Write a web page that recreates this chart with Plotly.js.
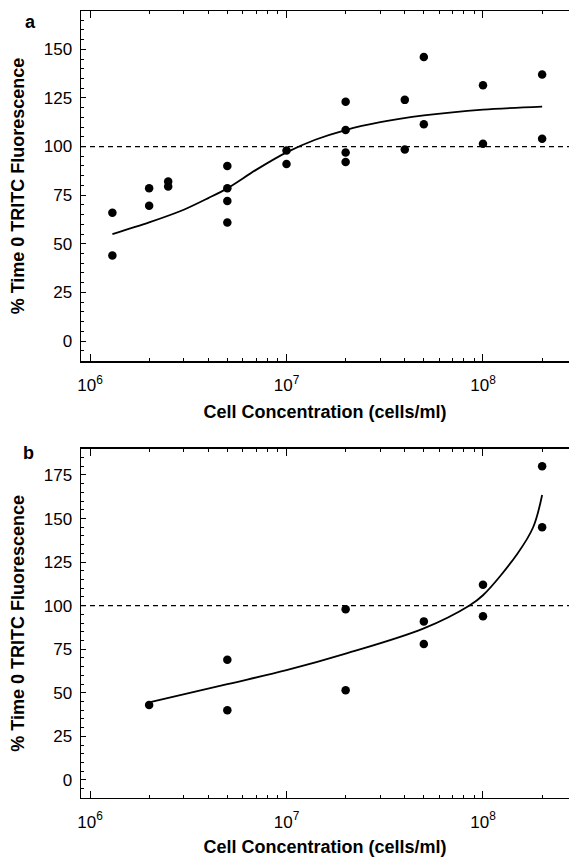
<!DOCTYPE html>
<html>
<head>
<meta charset="utf-8">
<script src="https://cdn.plot.ly/plotly-3.0.1.min.js"></script>
<style>html,body{margin:0;padding:0;background:#fff;}#chart{width:569px;height:857px;}</style>
</head>
<body>
<div id="chart"></div>
<script>
// Panel a: measured points
const concA = [1.3e6,1.3e6,2e6,2e6,2.5e6,2.5e6,5e6,5e6,5e6,5e6,1e7,1e7,2e7,2e7,2e7,2e7,4e7,4e7,5e7,5e7,1e8,1e8,2e8,2e8];
const fluorA = [66,44,78.5,69.5,82,79.5,90,78.5,72,61,98,91,123,108.5,97,92,124,98.5,146,111.5,131.5,101.5,137,104];
// Panel a: fitted curve
const fitConcA = [1.3e6,2e6,3e6,4e6,5e6,7e6,1e7,1.4e7,2e7,3e7,5e7,1e8,2e8];
const fitFluorA = [55,61,67.5,73.5,78.5,88,97,103.5,108.5,112.5,116,119,120.5];
// Panel b: measured points
const concB = [2e6,5e6,5e6,2e7,2e7,5e7,5e7,1e8,1e8,2e8,2e8];
const fluorB = [43,69,40,98,51.5,91,78,112,94,180,145];
// Panel b: fitted curve
const fitConcB = [2e6,5e6,1e7,2e7,5e7,8.5e7,1e8,1.5e8,1.8e8,2e8];
const fitFluorB = [44.5,55,63,72.5,87,100,106,130,145,163.5];
// Reference level and ticks
const baseline = 100;
const xTickVals = [1e6,1e7,1e8];
const xTickText = ['10<sup>6</sup>','10<sup>7</sup>','10<sup>8</sup>'];
const yTickValsA = [0,25,50,75,100,125,150];
const yTickValsB = [0,25,50,75,100,125,150,175];
const xTitle = 'Cell Concentration (cells/ml)';
const yTitle = '% Time 0 TRITC Fluorescence';

const FONT = 'Liberation Sans, Arial, Helvetica, sans-serif';

const traces = [
  {x: concA, y: fluorA, type:'scatter', mode:'markers', xaxis:'x', yaxis:'y',
   marker:{color:'#000', size:8.5}, showlegend:false},
  {x: fitConcA, y: fitFluorA, type:'scatter', mode:'lines', xaxis:'x', yaxis:'y',
   line:{color:'#000', width:1.8, shape:'spline', smoothing:0.8}, showlegend:false},
  {x: concB, y: fluorB, type:'scatter', mode:'markers', xaxis:'x2', yaxis:'y2',
   marker:{color:'#000', size:8.5}, showlegend:false},
  {x: fitConcB, y: fitFluorB, type:'scatter', mode:'lines', xaxis:'x2', yaxis:'y2',
   line:{color:'#000', width:1.8, shape:'spline', smoothing:1}, showlegend:false}
];

function xAxis(anchor){
  return {
    type:'log', range:[5.9542, 8.4377], domain:[0,1], anchor:anchor,
    tickmode:'array', tickvals:xTickVals, ticktext:xTickText,
    ticks:'inside', ticklen:7, tickwidth:1, tickcolor:'#000',
    minor:{ticks:'inside', ticklen:3, dtick:'D1', tickcolor:'#000', showgrid:false},
    showline:true, linewidth:1.5, linecolor:'#000', mirror:'ticks',
    showgrid:false, zeroline:false, automargin:false,
    tickfont:{family:FONT, size:17, color:'#000'},
    ticklabelstandoff:8,
    title:{text:'<b>'+xTitle+'</b>', font:{family:FONT, size:18, color:'#000'}, standoff:11}
  };
}
function yAxis(anchor, range, domain, tv){
  return {
    range:range, domain:domain, anchor:anchor,
    tickmode:'array', tickvals:tv,
    ticks:'inside', ticklen:5, tickwidth:1, tickcolor:'#000',
    minor:{ticks:'inside', ticklen:3, dtick:5, tickcolor:'#000', showgrid:false},
    showline:true, linewidth:1.5, linecolor:'#000', mirror:false,
    showgrid:false, zeroline:false, automargin:false,
    tickfont:{family:FONT, size:17, color:'#000'},
    ticklabelstandoff:4,
    title:{text:'<b>'+yTitle+'</b>', font:{family:FONT, size:18, color:'#000'}, standoff:14}
  };
}

const layout = {
  width:569, height:857,
  margin:{l:81, r:0, t:0, b:0},
  paper_bgcolor:'#fff', plot_bgcolor:'#fff',
  showlegend:false,
  xaxis: xAxis('y'),
  yaxis: yAxis('x', [-10.28, 169.7], [0.57876, 0.98716], yTickValsA),
  xaxis2: xAxis('y2'),
  yaxis2: yAxis('x2', [-10.16, 189.9], [0.06919, 0.47608], yTickValsB),
  shapes:[
    {type:'line', xref:'x domain', yref:'y', x0:0, x1:1, y0:baseline, y1:baseline,
     line:{color:'#000', width:1.2, dash:'5px,4px'}},
    {type:'line', xref:'x2 domain', yref:'y2', x0:0, x1:1, y0:baseline, y1:baseline,
     line:{color:'#000', width:1.2, dash:'5px,4px'}}
  ],
  annotations:[
    {text:'<b>a</b>', xref:'paper', yref:'paper', x:-0.1025, y:0.9743, showarrow:false,
     xanchor:'center', yanchor:'middle', font:{family:FONT, size:18, color:'#000'}},
    {text:'<b>b</b>', xref:'paper', yref:'paper', x:-0.1086, y:0.4714, showarrow:false,
     xanchor:'center', yanchor:'middle', font:{family:FONT, size:18, color:'#000'}}
  ]
};

Plotly.newPlot('chart', traces, layout, {staticPlot:true, displayModeBar:false});
</script>
</body>
</html>
